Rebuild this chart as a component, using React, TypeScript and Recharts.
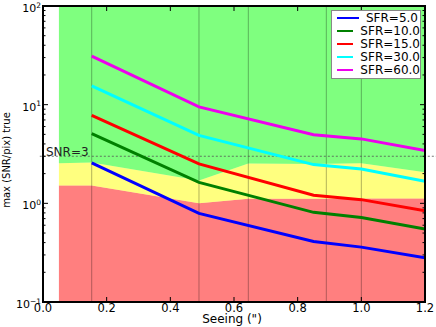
import React from 'react'
import { ComposedChart, Line, Area, XAxis, YAxis, ReferenceLine } from 'recharts'

// seeing values where the SNR curves were computed
const seeing = [0.153, 0.49, 0.85, 1.0, 1.2]
const sfr5 = [2.57, 0.79, 0.41, 0.36, 0.28]
const sfr10 = [5.1, 1.63, 0.81, 0.72, 0.55]
const sfr15 = [7.8, 2.51, 1.21, 1.09, 0.84]
const sfr30 = [15.5, 4.88, 2.47, 2.23, 1.67]
const sfr60 = [31, 9.5, 4.95, 4.5, 3.43]

// background quality bands
const bandSeeing = [0.05, 0.153, 0.49, 0.645, 0.85, 1.0, 1.2]
const redTop = [1.52, 1.52, 1.0, 1.11, 1.11, 1.12, 1.12]
const yellowTop = [2.55, 2.6, 1.7, 2.53, 2.5, 2.55, 2.06]

const vlines = [0.153, 0.49, 0.645, 0.89, 1.0]
const snrLimit = 3

const xTicks = [0, 0.2, 0.4, 0.6, 0.8, 1.0, 1.2]
const yTicks: number[] = []
for (const d of [0.1, 1, 10]) for (let k = 1; k <= 9; k++) yTicks.push(d * k)
yTicks.push(100)

const series = [
  { name: 'SFR=5.0', values: sfr5, color: '#0000ff' },
  { name: 'SFR=10.0', values: sfr10, color: '#008000' },
  { name: 'SFR=15.0', values: sfr15, color: '#ff0000' },
  { name: 'SFR=30.0', values: sfr30, color: '#00ffff' },
  { name: 'SFR=60.0', values: sfr60, color: '#ee00ee' },
]

const FONT = '"DejaVu Sans", sans-serif'
const PLOT = { left: 43, right: 425, top: 6, bottom: 302 }

const band = (lo: (i: number) => number, hi: (i: number) => number) =>
  bandSeeing.map((x, i) => ({ x, range: [lo(i), hi(i)] }))

const redBand = band(() => 0.1, (i) => redTop[i])
const yellowBand = band((i) => redTop[i], (i) => yellowTop[i])
const greenBand = band((i) => yellowTop[i], () => 100)

function XTick({ x, payload }: any) {
  return (
    <g>
      <line x1={x} x2={x} y1={PLOT.bottom} y2={PLOT.bottom - 5} stroke="#000" />
      <line x1={x} x2={x} y1={PLOT.top} y2={PLOT.top + 5} stroke="#000" />
      <text x={x} y={312} textAnchor="middle" fontSize={11.5} fontFamily={FONT} fill="#000">
        {payload.value.toFixed(1)}
      </text>
    </g>
  )
}

function YTick({ y, payload }: any) {
  const lg = Math.log10(payload.value)
  const major = Math.abs(lg - Math.round(lg)) < 1e-6
  const len = major ? 5 : 2.5
  const p = Math.round(lg)
  return (
    <g>
      <line x1={PLOT.left} x2={PLOT.left + len} y1={y} y2={y} stroke="#000" />
      <line x1={PLOT.right} x2={PLOT.right - len} y1={y} y2={y} stroke="#000" />
      {major && (
        <text x={41} y={y + 6} textAnchor="end" fontSize={11} fontFamily={FONT} fill="#000">
          <tspan>10</tspan>
          <tspan dy={-4.5} fontSize={7.5}>{p < 0 ? '\u2212' + Math.abs(p) : p}</tspan>
        </text>
      )}
    </g>
  )
}

export default function App() {
  return (
    <div style={{ position: 'absolute', left: 0, top: 0, width: 436, height: 327, background: '#fff' }}>
      <ComposedChart width={436} height={327} margin={{ top: 6, right: 11, bottom: 0, left: 0 }}>
        <XAxis
          type="number"
          dataKey="x"
          domain={[0, 1.2]}
          ticks={xTicks}
          interval={0}
          allowDataOverflow
          axisLine={false}
          tickLine={false}
          height={25}
          tick={<XTick />}
          label={{ content: () => <text x={232} y={323} textAnchor="middle" fontSize={12} fontFamily={FONT} fill="#000">Seeing (")</text> }}
        />
        <YAxis
          type="number"
          scale="log"
          domain={[0.1, 100]}
          ticks={yTicks}
          interval={0}
          allowDataOverflow
          axisLine={false}
          tickLine={false}
          width={43}
          tick={<YTick />}
          label={{ content: () => <text x={10} y={160} transform="rotate(-90 10 160)" textAnchor="middle" fontSize={10} fontFamily={FONT} fill="#000">max (SNR/pix) true</text> }}
        />
        <Area data={redBand} dataKey="range" type="linear" stroke="none" fill="#ff0000" fillOpacity={0.5} isAnimationActive={false} />
        <Area data={yellowBand} dataKey="range" type="linear" stroke="none" fill="#ffff00" fillOpacity={0.5} isAnimationActive={false} />
        <Area data={greenBand} dataKey="range" type="linear" stroke="none" fill="#00ff00" fillOpacity={0.5} isAnimationActive={false} />
        {vlines.map((v) => (
          <ReferenceLine key={v} x={v} stroke="#000" strokeOpacity={0.3} strokeWidth={1} />
        ))}
        <ReferenceLine
          segment={[{ x: -0.01, y: snrLimit }, { x: 1.24, y: snrLimit }]}
          ifOverflow="visible"
          stroke="#555"
          strokeOpacity={0.8}
          strokeDasharray="2 2"
          label={{ content: () => <text x={46} y={156} fontSize={12} fontFamily={FONT} fill="#222">SNR=3</text> }}
        />
        {series.map((s) => (
          <Line
            key={s.name}
            data={seeing.map((x, i) => ({ x, v: s.values[i] }))}
            dataKey="v"
            type="linear"
            stroke={s.color}
            strokeWidth={3}
            dot={false}
            isAnimationActive={false}
          />
        ))}
      </ComposedChart>
      <div
        style={{
          position: 'absolute',
          left: PLOT.left - 1,
          top: PLOT.top - 1,
          width: PLOT.right - PLOT.left - 2,
          height: PLOT.bottom - PLOT.top - 2,
          border: '2px solid #000',
          pointerEvents: 'none',
        }}
      />
      <div
        style={{
          position: 'absolute',
          left: 331,
          top: 10,
          width: 88,
          height: 66,
          border: '1px solid #888',
          background: '#fff',
          paddingTop: 1,
          fontFamily: FONT,
          fontSize: 12,
        }}
      >
        {series.map((s) => (
          <div key={s.name} style={{ display: 'flex', alignItems: 'center', height: 12.9, paddingLeft: 5 }}>
            <div style={{ width: 22, height: 2, background: s.color, marginRight: 7 }} />
            <span>{s.name}</span>
          </div>
        ))}
      </div>
    </div>
  )
}
